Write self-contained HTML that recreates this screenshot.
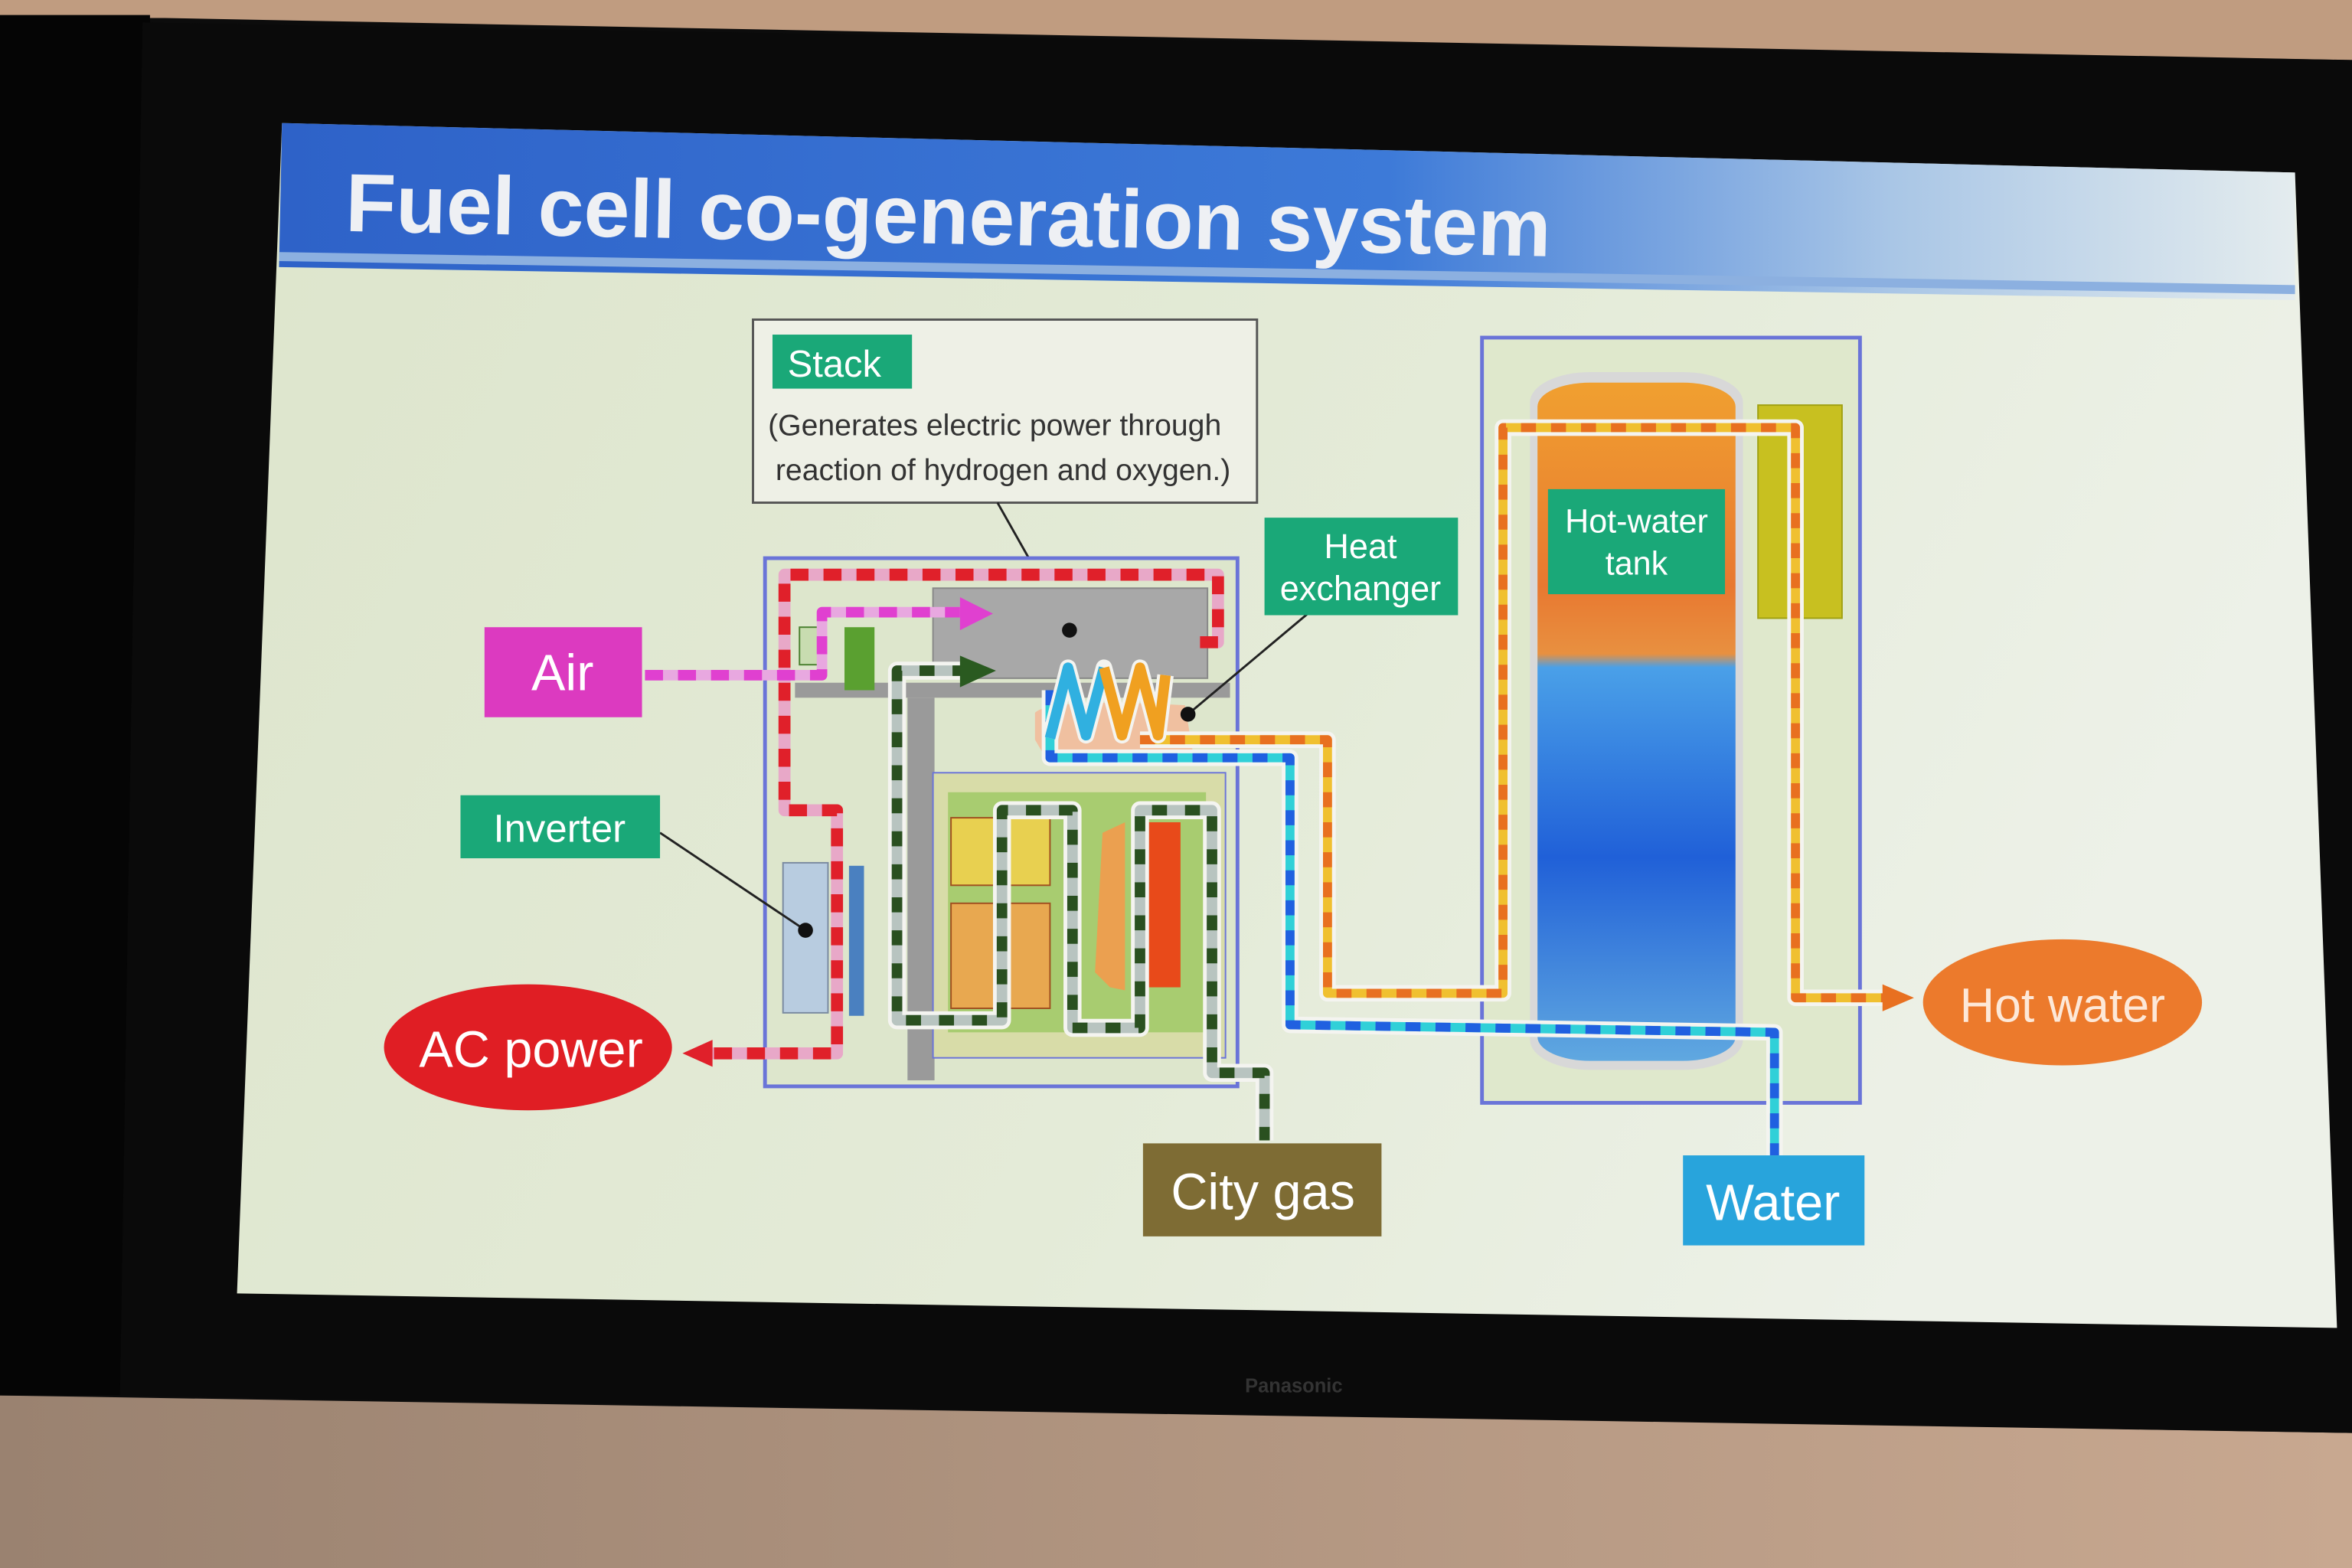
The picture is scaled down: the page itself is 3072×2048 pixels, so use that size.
<!DOCTYPE html>
<html><head><meta charset="utf-8"><style>
html,body{margin:0;padding:0;width:3072px;height:2048px;overflow:hidden;background:#111}
svg{display:block}
text{font-family:"Liberation Sans",sans-serif}
</style></head><body>
<svg width="3072" height="2048" viewBox="0 0 1568 1045" preserveAspectRatio="none">
<defs>
<linearGradient id="scr" x1="0" y1="0" x2="1" y2="0.3">
<stop offset="0" stop-color="#dde5cc"/><stop offset="0.6" stop-color="#e4ebd8"/><stop offset="1" stop-color="#edf1e8"/></linearGradient>
<linearGradient id="title" x1="0" y1="0" x2="1" y2="0">
<stop offset="0" stop-color="#2e62c8"/><stop offset="0.55" stop-color="#3d7ad8"/><stop offset="0.8" stop-color="#a9c6e6"/><stop offset="1" stop-color="#e4ecee"/></linearGradient>
<linearGradient id="tank" x1="0" y1="0" x2="0" y2="1">
<stop offset="0" stop-color="#f0a030"/><stop offset="0.3" stop-color="#e87830"/><stop offset="0.4" stop-color="#e89040"/><stop offset="0.42" stop-color="#4aa0e8"/><stop offset="0.7" stop-color="#2060d8"/><stop offset="1" stop-color="#60a8e0"/></linearGradient>
<linearGradient id="wall" x1="0" y1="0" x2="1" y2="0"><stop offset="0" stop-color="#9a8270"/><stop offset="1" stop-color="#c8a890"/></linearGradient>
</defs>
<rect x="0" y="0" width="1568" height="1045" fill="#0c0c0c"/>
<polygon points="0,0 1568,0 1568,40 110,12 0,12" fill="#c09c80"/>
<polygon points="0,930 1568,955 1568,1045 0,1045" fill="url(#wall)"/>
<rect x="0" y="10" width="100" height="920" fill="#050505"/>
<polygon points="95,15 1568,40 1568,955 80,930" fill="#0a0a0a"/>
<polygon points="188,82 1530,115 1558,885 158,862" fill="url(#scr)"/>
<polygon points="188,82 1530,115 1530,200 186,178" fill="url(#title)"/>
<polygon points="186,168 1530,190 1530,196 186,174" fill="#8cb0e0"/>
<text x="230" y="154" font-size="55" font-weight="bold" fill="#eef0f4" transform="rotate(1.2 230 154)">Fuel cell co-generation system</text>
<text x="830" y="928" font-size="13" fill="#333" font-weight="bold">Panasonic</text>

<rect x="502" y="213" width="336" height="122" fill="#eef0e6" stroke="#555" stroke-width="1.5"/>
<rect x="515" y="223" width="93" height="36" fill="#1aa878"/>
<text x="525" y="251" font-size="25" fill="#fff">Stack</text>
<text x="512" y="290" font-size="20" fill="#333">(Generates electric power through</text>
<text x="517" y="320" font-size="20" fill="#333">reaction of hydrogen and oxygen.)</text>
<line x1="665" y1="335" x2="713" y2="420" stroke="#222" stroke-width="1.5"/>

<rect x="510" y="372" width="315" height="352" fill="#dde6cc" stroke="#6a74d8" stroke-width="2.5"/>
<rect x="622" y="392" width="183" height="60" fill="#a8a8a8" stroke="#888"/>
<rect x="530" y="455" width="290" height="10" fill="#9a9a9a"/>
<rect x="605" y="465" width="18" height="255" fill="#9a9a9a"/>
<rect x="622" y="515" width="195" height="190" fill="#d8dca8" stroke="#6a74d8"/>
<rect x="632" y="528" width="172" height="160" fill="#a8cc70"/>
<rect x="634" y="545" width="66" height="45" fill="#e8d050" stroke="#a05020"/>
<rect x="634" y="602" width="66" height="70" fill="#e8a850" stroke="#a05020"/>
<polygon points="735,555 750,548 750,660 740,658 730,648" fill="#eba050"/>
<rect x="765" y="548" width="22" height="110" fill="#e84a1a"/>
<rect x="522" y="575" width="30" height="100" fill="#b8cce0" stroke="#7a8aa0"/>
<rect x="566" y="577" width="10" height="100" fill="#4a80c0"/>
<rect x="533" y="418" width="16" height="25" fill="#c8dcb0" stroke="#4a8030"/>
<rect x="563" y="418" width="20" height="42" fill="#5aa030"/>
<path d="M690,493 L690,475 Q700,465 790,470 L795,500 L700,510 Z" fill="#f0c0a0"/>

<rect x="988" y="225" width="252" height="510" fill="#dfe8cc" stroke="#6a74d8" stroke-width="2.5"/>
<rect x="1172" y="270" width="56" height="142" fill="#c8c020" stroke="#a0a010"/>
<rect x="1020" y="248" width="142" height="465" rx="40" ry="20" fill="#d8d8d8"/>
<rect x="1025" y="255" width="132" height="452" rx="35" ry="16" fill="url(#tank)"/>
<rect x="1032" y="326" width="118" height="70" fill="#1aa878"/>
<text x="1091" y="355" font-size="22" fill="#fff" text-anchor="middle">Hot-water</text>
<text x="1091" y="383" font-size="22" fill="#fff" text-anchor="middle">tank</text>

<g fill="none" stroke-linejoin="round">
<path d="M800,428 L812,428 L812,383 L523,383 L523,540 L558,540 L558,702 L470,702" stroke="#e8a8c8" stroke-width="8"/>
<path d="M800,428 L812,428 L812,383 L523,383 L523,540 L558,540 L558,702 L470,702" stroke="#e0202a" stroke-width="8" stroke-dasharray="12,10"/>
<path d="M430,450 L548,450 L548,408 L640,408" stroke="#e8a8e0" stroke-width="7"/>
<path d="M430,450 L548,450 L548,408 L640,408" stroke="#e040d0" stroke-width="7" stroke-dasharray="12,10"/>
<path d="M645,447 L598,447 L598,680 L668,680 L668,540 L715,540 L715,685 L760,685 L760,540 L808,540 L808,715 L843,715 L843,760" stroke="#f4f4f0" stroke-width="12"/>
<path d="M645,447 L598,447 L598,680 L668,680 L668,540 L715,540 L715,685 L760,685 L760,540 L808,540 L808,715 L843,715 L843,760" stroke="#b8c4c0" stroke-width="7"/>
<path d="M645,447 L598,447 L598,680 L668,680 L668,540 L715,540 L715,685 L760,685 L760,540 L808,540 L808,715 L843,715 L843,760" stroke="#2a5020" stroke-width="7" stroke-dasharray="10,12"/>
<path d="M760,493 L885,493 L885,662 L1002,662 L1002,285 L1197,285 L1197,665 L1262,665" stroke="#f4f4f0" stroke-width="11"/>
<path d="M760,493 L885,493 L885,662 L1002,662 L1002,285 L1197,285 L1197,665 L1262,665" stroke="#f0c030" stroke-width="6"/>
<path d="M760,493 L885,493 L885,662 L1002,662 L1002,285 L1197,285 L1197,665 L1262,665" stroke="#e87020" stroke-width="6" stroke-dasharray="10,10"/>
<path d="M700,460 L700,505 L860,505 L860,683 L1183,688 L1183,770" stroke="#f4f4f0" stroke-width="11"/>
<path d="M700,460 L700,505 L860,505 L860,683 L1183,688 L1183,770" stroke="#30d0d8" stroke-width="6"/>
<path d="M700,460 L700,505 L860,505 L860,683 L1183,688 L1183,770" stroke="#2060e0" stroke-width="6" stroke-dasharray="10,10"/>
<path d="M700,492 L712,445 L724,490 L736,445 L748,490 L760,445 L772,490 L777,450" stroke="#f4f4f0" stroke-width="11"/>
<path d="M700,492 L712,445 L724,490 L736,445" stroke="#30b0e0" stroke-width="7"/>
<path d="M736,445 L748,490 L760,445 L772,490 L777,450" stroke="#f0a020" stroke-width="7"/>
</g>
<polygon points="640,398 662,409 640,420" fill="#e040d0"/>
<polygon points="640,437 664,447 640,458" fill="#2a5a20"/>
<polygon points="475,693 455,702 475,711" fill="#e0202a"/>
<polygon points="1255,656 1276,665 1255,674" fill="#e87020"/>

<circle cx="713" cy="420" r="5" fill="#111"/>
<line x1="873" y1="408" x2="792" y2="476" stroke="#222" stroke-width="1.5"/>
<circle cx="792" cy="476" r="5" fill="#111"/>
<line x1="440" y1="555" x2="537" y2="620" stroke="#222" stroke-width="1.5"/>
<circle cx="537" cy="620" r="5" fill="#111"/>

<rect x="843" y="345" width="129" height="65" fill="#1aa878"/>
<text x="907" y="372" font-size="23" fill="#fff" text-anchor="middle">Heat</text>
<text x="907" y="400" font-size="23" fill="#fff" text-anchor="middle">exchanger</text>
<rect x="323" y="418" width="105" height="60" fill="#dc3ac0"/>
<text x="375" y="460" font-size="34" fill="#fff" text-anchor="middle">Air</text>
<rect x="307" y="530" width="133" height="42" fill="#1aa878"/>
<text x="373" y="561" font-size="26" fill="#fff" text-anchor="middle">Inverter</text>
<ellipse cx="352" cy="698" rx="96" ry="42" fill="#e01e24"/>
<text x="354" y="711" font-size="34" fill="#fff" text-anchor="middle">AC power</text>
<rect x="762" y="762" width="159" height="62" fill="#7e6c34"/>
<text x="842" y="806" font-size="34" fill="#fff" text-anchor="middle">City gas</text>
<rect x="1122" y="770" width="121" height="60" fill="#28a4dc"/>
<text x="1182" y="813" font-size="34" fill="#fff" text-anchor="middle">Water</text>
<ellipse cx="1375" cy="668" rx="93" ry="42" fill="#ec7a2c"/>
<text x="1375" y="681" font-size="32" fill="#fde8d8" text-anchor="middle">Hot water</text>
</svg>
</body></html>
